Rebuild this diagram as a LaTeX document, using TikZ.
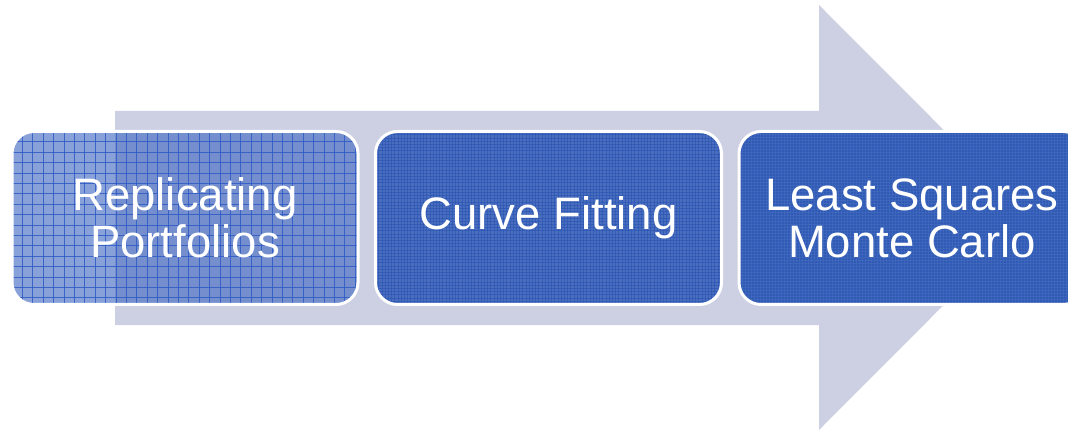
\documentclass[tikz,border=0pt]{standalone}
\usepackage{fontspec}
\setmainfont{Liberation Sans}
\begin{document}
\begin{tikzpicture}[x=1pt,y=-1pt]
\definecolor{arrowc}{HTML}{CDD0E3}
\definecolor{boxA}{HTML}{3A62C0}
\definecolor{gridA}{HTML}{2E5BC5}
\definecolor{boxB}{HTML}{4A6EBD}
\definecolor{gridB}{HTML}{2C57B6}
\definecolor{boxC}{HTML}{2F5AB5}
\definecolor{gridC}{HTML}{4F74C2}
\tikzset{
  stagebox/.style={rounded corners=22pt, draw=white, line width=3pt,
    minimum width=346pt, minimum height=173pt, inner sep=0pt,
    text=white, align=center, font=\fontsize{45.5}{47}\selectfont},
  gridlines/.style n args={3}{path picture={
    \foreach \i in {0,#1,...,360} {
      \draw[#2,line width=#3]
        ([xshift=\i pt]path picture bounding box.north west) --
        ([xshift=\i pt]path picture bounding box.south west);
    }
    \foreach \j in {0,#1,...,180} {
      \draw[#2,line width=#3]
        ([yshift=-\j pt]path picture bounding box.north west) --
        ([yshift=-\j pt]path picture bounding box.north east);
    }
  }}
}
\useasboundingbox (0,0) rectangle (1068,430);
% big background arrow
\fill[arrowc] (115,111) -- (819,111) -- (819,5) -- (1031,217.5)
  -- (819,430) -- (819,325) -- (115,325) -- cycle;
% stage boxes
\node[stagebox, fill=boxA, fill opacity=0.6, text opacity=1, draw opacity=1,
  gridlines={10.4}{gridA,opacity=0.85}{0.9pt}]
  (b1) at (185,218) {Replicating\\Portfolios};
\node[stagebox, fill=boxB,
  gridlines={3.2}{gridB,opacity=0.7}{0.7pt}]
  (b2) at (548.5,218) {Curve Fitting};
\node[stagebox, fill=boxC,
  gridlines={3}{gridC,opacity=0.4}{0.5pt}]
  (b3) at (912,218) {Least Squares\\Monte Carlo};
\end{tikzpicture}
\end{document}
